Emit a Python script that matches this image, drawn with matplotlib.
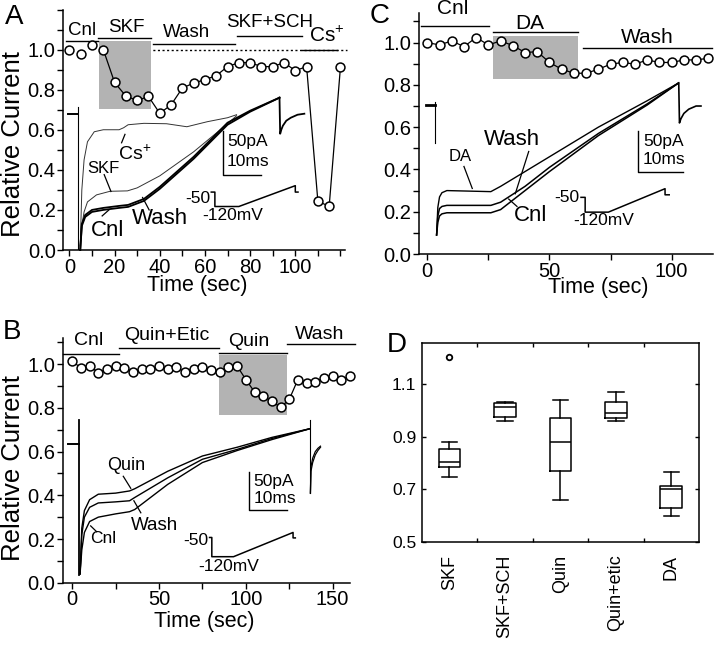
import numpy as np
import matplotlib.pyplot as plt
from matplotlib.patches import Rectangle
from matplotlib.ticker import MultipleLocator

plt.rcParams['font.family'] = ['Liberation Sans', 'DejaVu Sans']
plt.rcParams['mathtext.default'] = 'regular'

# ---------------- panel A : SKF experiment
a_t = [0, 5, 10, 15, 20, 25, 30, 35, 40, 45, 50, 55, 60, 65, 70, 75, 80, 85, 90, 95, 100, 105, 110, 115, 120]
a_rel = [1.0, 0.978, 1.023, 1.0, 0.836, 0.768, 0.746, 0.766, 0.682, 0.724, 0.808, 0.833, 0.85, 0.87,
         0.915, 0.935, 0.935, 0.915, 0.915, 0.935, 0.895, 0.915, 0.242, 0.219, 0.915]
a_epochs = ['Cnl', 'SKF', 'Wash', 'SKF+SCH', 'Cs$^{+}$']
a_start = [-1.5, 12.5, 36.8, 74.3, 103]
a_stop = [12.5, 36, 73.5, 103, 118.4]
a_level = [1.042, 1.058, 1.028, 1.07, 1.0]
a_shade = [13.2, 36, 0.705, 1.042]

a_base_x = [-0.7, 4.0]
a_base_y = [0.68, 0.68]
a_cs_x = [4.8, 5.5, 6.5, 8, 11, 15, 22, 24, 26, 33, 43, 52, 61, 70, 74]
a_cs_y = [0.02, 0.3, 0.45, 0.54, 0.59, 0.6, 0.6, 0.61, 0.625, 0.632, 0.63, 0.615, 0.64, 0.66, 0.675]
a_skf_x = [4.8, 5.5, 6.5, 8, 12, 18, 25.7, 30, 40, 55, 70, 74]
a_skf_y = [0.02, 0.12, 0.19, 0.24, 0.275, 0.293, 0.295, 0.31, 0.37, 0.49, 0.63, 0.67]
a_cnl_x = [4.8, 5.5, 7, 10, 15, 22, 26, 33, 40, 55, 70, 80, 93]
a_cnl_y = [0.0, 0.12, 0.165, 0.19, 0.2, 0.21, 0.215, 0.245, 0.305, 0.455, 0.625, 0.69, 0.76]
a_wash_y = [0.0, 0.13, 0.175, 0.2, 0.21, 0.22, 0.225, 0.255, 0.315, 0.465, 0.635, 0.695, 0.76]
a_tail_x = [93, 93.3, 93.8, 94.5, 96, 98, 101, 104]
a_tail_y = [0.76, 0.58, 0.6, 0.62, 0.645, 0.66, 0.675, 0.68]
a_volt_x = [62.8, 64.4, 64.4, 75, 100, 100, 101.2]
a_volt_y = [0.289, 0.289, 0.217, 0.217, 0.321, 0.289, 0.289]

# ---------------- panel B : quinpirole experiment
b_t = [0, 5, 10, 15, 20, 25, 30, 35, 40, 45, 50, 55, 60, 65, 70, 75, 80, 85, 90, 95, 100,
       105, 110, 115, 120, 125, 130, 135, 140, 145, 150, 155, 160]
b_rel = [1.014, 0.983, 0.991, 0.962, 0.977, 0.991, 0.983, 0.965, 0.977, 0.977, 0.991, 0.98, 0.985,
         0.965, 0.98, 0.985, 0.973, 0.965, 0.985, 0.991, 0.93, 0.873, 0.854, 0.831, 0.802, 0.839,
         0.93, 0.912, 0.919, 0.939, 0.945, 0.93, 0.945]
b_epochs = ['Cnl', 'Quin+Etic', 'Quin', 'Wash']
b_start = [-5.2, 27, 84.3, 123.7]
b_stop = [27, 84.3, 123.7, 163]
b_level = [1.046, 1.076, 1.052, 1.091]
b_shade = [84.3, 123.7, 0.767, 1.044]

b_base_x = [-2.3, 4.0]
b_base_y = [0.633, 0.633]
b_tr_x = [4.5, 5.5, 7, 10, 15, 25, 33, 36, 55, 75, 95, 115, 137]
b_quin_y = [0.04, 0.25, 0.33, 0.38, 0.405, 0.41, 0.42, 0.43, 0.51, 0.58, 0.62, 0.665, 0.705]
b_wash_y = [0.04, 0.22, 0.3, 0.345, 0.365, 0.37, 0.375, 0.39, 0.48, 0.565, 0.61, 0.66, 0.705]
b_cnl_y = [0.04, 0.15, 0.23, 0.28, 0.3, 0.315, 0.325, 0.335, 0.45, 0.55, 0.605, 0.655, 0.705]
b_tail_x = [137.2, 137.5, 138.5, 140, 141.5, 143]
b_tail1_y = [0.41, 0.53, 0.57, 0.6, 0.615, 0.625]
b_tail2_y = [0.41, 0.51, 0.55, 0.585, 0.605, 0.62]
b_volt_x = [79.1, 80.4, 80.4, 92.9, 127.2, 127.2, 128.5]
b_volt_y = [0.207, 0.207, 0.119, 0.119, 0.23, 0.205, 0.205]

# ---------------- panel C : dopamine experiment
c_t = [0, 5, 10, 15, 20, 25, 30, 35, 40, 45, 50, 55, 60, 65, 70, 75, 80, 85, 90, 95, 100, 105, 110, 115]
c_rel = [1.0, 0.989, 1.008, 0.981, 1.024, 0.989, 1.008, 0.986, 0.953, 0.957, 0.906, 0.874, 0.855,
         0.855, 0.874, 0.898, 0.906, 0.898, 0.918, 0.906, 0.906, 0.918, 0.918, 0.926]
c_epochs = ['Cnl', 'DA', 'Wash']
c_start = [-2.7, 26.9, 63.9]
c_stop = [25.4, 61.5, 116.7]
c_level = [1.079, 1.052, 0.973]
c_shade = [26.9, 61.5, 0.827, 1.031]

c_base_x = [-0.7, 3.0]
c_base_y = [0.705, 0.705]
c_tr_x = [3.8, 4.3, 5, 6, 8, 26, 30, 40, 50, 70, 90, 102.7]
c_da_y = [0.09, 0.22, 0.27, 0.29, 0.3, 0.295, 0.32, 0.39, 0.46, 0.6, 0.725, 0.808]
c_wash_y = [0.09, 0.18, 0.215, 0.225, 0.23, 0.23, 0.245, 0.32, 0.41, 0.57, 0.71, 0.808]
c_cnl_y = [0.09, 0.15, 0.18, 0.19, 0.195, 0.195, 0.21, 0.3, 0.39, 0.56, 0.705, 0.808]
c_tail_x = [102.9, 103.2, 103.8, 105, 107, 110, 112]
c_tail_y = [0.81, 0.62, 0.64, 0.665, 0.685, 0.7, 0.7]
c_volt_x = [62.9, 64.6, 64.6, 74.1, 97.3, 97.3, 99.0]
c_volt_y = [0.268, 0.268, 0.198, 0.198, 0.309, 0.28, 0.28]

# ---------------- panel D : summary box plot
d_names = ['SKF', 'SKF+SCH', 'Quin', 'Quin+etic', 'DA']
d_whislo = [0.748, 0.958, 0.66, 0.958, 0.599]
d_q1 = [0.786, 0.974, 0.768, 0.971, 0.628]
d_med = [0.803, 1.012, 0.881, 0.99, 0.702]
d_q3 = [0.852, 1.027, 0.970, 1.033, 0.714]
d_whishi = [0.879, 1.03, 1.04, 1.069, 0.767]
d_fliers = [[1.201], [], [], [], []]


W, H = 720, 646
fig = plt.figure(figsize=(W / 100, H / 100), dpi=100)


def box(l, t, r, b):
    return [l / W, 1 - b / H, (r - l) / W, (b - t) / H]


def style(ax):
    ax.spines[['top', 'right']].set_visible(False)
    for s in ['left', 'bottom']:
        ax.spines[s].set_linewidth(1.1)
    ax.tick_params(which='both', direction='out', length=4, width=1, labelsize=14.5, pad=1.5)


def timecourse(ax, t, rel, epochs, start, stop, level, shade, first_line=0):
    ax.add_patch(Rectangle((shade[0], shade[2]), shade[1] - shade[0], shade[3] - shade[2],
                           facecolor='#b3b3b3', edgecolor='none', zorder=1))
    ax.plot(t[first_line:], rel[first_line:], color='k', lw=0.9, zorder=4, clip_on=False)
    ax.plot(t, rel, ls='none', marker='o', ms=6.4, mfc='white', mec='k', mew=1.1,
            zorder=5, clip_on=False)
    for x0, x1, y in zip(start, stop, level):
        ax.plot([x0, x1], [y, y], color='k', lw=1, clip_on=False, zorder=3)


def trace(ax, x, y, lw=1.2, color='k'):
    ax.plot(x, y, color=color, lw=lw, zorder=2, clip_on=False)


def pointer(ax, x0, y0, x1, y1):
    ax.plot([x0, x1], [y0, y1], color='k', lw=0.9, zorder=3)


def scalebar(ax, x0, y0, x1, y1, fs=12.5):
    ax.plot([x0, x0, x1], [y1, y0, y0], color='k', lw=1)
    ax.text(x0 + (x1 - x0) * 0.1, y1 - (y1 - y0) * 0.25, '50pA', fontsize=fs, va='center')
    ax.text(x0 + (x1 - x0) * 0.1, y0 + (y1 - y0) * 0.3, '10ms', fontsize=fs, va='center')


# ===== A
axA = fig.add_axes(box(63.3, 9.5, 345, 250))
style(axA)
axA.set_xlim(-2.7, 122)
axA.set_ylim(0, 1.2)
axA.set_xticks([0, 20, 40, 60, 80, 100, 120])
axA.set_xticklabels(['0', '20', '40', '60', '80', '100', ''])
axA.xaxis.set_minor_locator(MultipleLocator(10))
axA.set_yticks([0, 0.2, 0.4, 0.6, 0.8, 1.0, 1.2])
axA.set_yticklabels(['0.0', '0.2', '0.4', '0.6', '0.8', '1.0', ''])
axA.yaxis.set_minor_locator(MultipleLocator(0.1))
timecourse(axA, a_t, a_rel, a_epochs, a_start, a_stop, a_level, a_shade, first_line=3)
axA.plot([16.6, 122.8], [1.0, 1.0], color='k', lw=1, ls=(0, (1.5, 1.8)), clip_on=False, zorder=0)
for name, x, y in zip(a_epochs, [5.4, 25.1, 51.8, 88.6, 114], [1.095, 1.112, 1.087, 1.137, 1.07]):
    axA.text(x, y, name, fontsize=13.5 if name != 'Cs$^{+}$' else 15, ha='center', va='center')
trace(axA, a_base_x, a_base_y, lw=1.4)
axA.plot([4.0, 4.0], [0.715, 0.0], color='k', lw=0.8)
trace(axA, a_cs_x, a_cs_y, lw=0.7, color='#333333')
trace(axA, a_skf_x, a_skf_y, lw=0.7, color='#333333')
trace(axA, a_cnl_x, a_cnl_y, lw=1.3)
trace(axA, a_cnl_x, a_wash_y, lw=1.3)
trace(axA, a_tail_x, a_tail_y, lw=1.3)
axA.plot(a_volt_x, a_volt_y, color='k', lw=1.1)
axA.text(62.3, 0.259, '-50', fontsize=12.5, ha='right', va='center')
axA.text(72.4, 0.172, '-120mV', fontsize=12.5, ha='center', va='center')
scalebar(axA, 68.1, 0.376, 84.6, 0.594)
axA.text(28.7, 0.477, 'Cs$^{+}$', fontsize=14, ha='center', va='center')
pointer(axA, 23.1, 0.535, 24.6, 0.577)
axA.text(15, 0.406, 'SKF', fontsize=12, ha='center', va='center')
pointer(axA, 15.4, 0.376, 18.4, 0.292)
axA.text(16.9, 0.095, 'Cnl', fontsize=16, ha='center', va='center')
pointer(axA, 14.5, 0.17, 17.5, 0.2)
axA.text(40, 0.159, 'Wash', fontsize=16, ha='center', va='center')
pointer(axA, 32.4, 0.262, 35.3, 0.2)

# ===== B
axB = fig.add_axes(box(62.7, 338, 350, 582.7))
style(axB)
axB.set_xlim(-5.5, 160)
axB.set_ylim(0, 1.12)
axB.set_xticks([0, 50, 100, 150])
axB.xaxis.set_minor_locator(MultipleLocator(25))
axB.set_yticks([0, 0.2, 0.4, 0.6, 0.8, 1.0])
axB.set_yticklabels(['0.0', '0.2', '0.4', '0.6', '0.8', '1.0'])
axB.yaxis.set_minor_locator(MultipleLocator(0.1))
timecourse(axB, b_t, b_rel, b_epochs, b_start, b_stop, b_level, b_shade)
for name, x, y in zip(b_epochs, [9.6, 54.5, 101.6, 142.3], [1.107, 1.133, 1.102, 1.137]):
    axB.text(x, y, name, fontsize=14, ha='center', va='center')
trace(axB, b_base_x, b_base_y, lw=1.4)
axB.plot([4.0, 4.0], [0.744, 0.035], color='k', lw=1.3)
trace(axB, b_tr_x, b_quin_y, lw=1.0)
trace(axB, b_tr_x, b_wash_y, lw=1.0)
trace(axB, b_tr_x, b_cnl_y, lw=1.0)
axB.plot([137.2, 137.2], [0.744, 0.41], color='k', lw=0.8)
trace(axB, b_tail_x, b_tail1_y, lw=0.9)
trace(axB, b_tail_x, b_tail2_y, lw=0.9)
axB.plot(b_volt_x, b_volt_y, color='k', lw=1.1)
axB.text(78.5, 0.195, '-50', fontsize=12.5, ha='right', va='center')
axB.text(90, 0.075, '-120mV', fontsize=12.5, ha='center', va='center')
scalebar(axB, 102.1, 0.332, 123.7, 0.508)
axB.text(30.8, 0.538, 'Quin', fontsize=13, ha='center', va='center')
pointer(axB, 29.4, 0.487, 33.7, 0.432)
axB.text(47.2, 0.26, 'Wash', fontsize=13.5, ha='center', va='center')
pointer(axB, 35.5, 0.375, 39.5, 0.32)
axB.text(17.9, 0.204, 'Cnl', fontsize=12.5, ha='center', va='center')
pointer(axB, 10.6, 0.26, 14.1, 0.233)

# ===== C
axC = fig.add_axes(box(419, 13, 712.7, 254))
style(axC)
axC.set_xlim(-3.4, 116.8)
axC.set_ylim(0, 1.14)
axC.set_xticks([0, 50, 100])
axC.xaxis.set_minor_locator(MultipleLocator(25))
axC.set_yticks([0, 0.2, 0.4, 0.6, 0.8, 1.0])
axC.set_yticklabels(['0.0', '0.2', '0.4', '0.6', '0.8', '1.0'])
axC.yaxis.set_minor_locator(MultipleLocator(0.1))
timecourse(axC, c_t, c_rel, c_epochs, c_start, c_stop, c_level, c_shade)
for name, x, y in zip(c_epochs, [10.2, 41.8, 90], [1.159, 1.088, 1.025]):
    axC.text(x, y, name, fontsize=15, ha='center', va='center')
trace(axC, c_base_x, c_base_y, lw=2.0)
axC.plot([3.0, 3.0], [0.72, 0.524], color='k', lw=0.8)
trace(axC, c_tr_x, c_da_y, lw=1.0)
trace(axC, c_tr_x, c_wash_y, lw=1.1)
trace(axC, c_tr_x, c_cnl_y, lw=1.1)
trace(axC, c_tail_x, c_tail_y, lw=1.2)
axC.plot(c_volt_x, c_volt_y, color='k', lw=1.1)
axC.text(62.4, 0.265, '-50', fontsize=12.5, ha='right', va='center')
axC.text(72.1, 0.159, '-120mV', fontsize=12.5, ha='center', va='center')
scalebar(axC, 86.4, 0.39, 104.8, 0.58)
axC.text(13.6, 0.461, 'DA', fontsize=12, ha='center', va='center')
pointer(axC, 15, 0.414, 18.4, 0.31)
axC.text(34.7, 0.54, 'Wash', fontsize=16, ha='center', va='center')
pointer(axC, 41.5, 0.485, 36, 0.285)
axC.text(42.2, 0.183, 'Cnl', fontsize=16, ha='center', va='center')
pointer(axC, 36.7, 0.225, 33.3, 0.26)

# ===== D
axD = fig.add_axes(box(421.7, 343, 699, 542))
stats = []
for i, name in enumerate(d_names):
    stats.append(dict(label=name, whislo=d_whislo[i], q1=d_q1[i], med=d_med[i],
                      q3=d_q3[i], whishi=d_whishi[i], fliers=d_fliers[i]))
axD.bxp(stats, positions=[1, 2, 3, 4, 5], widths=0.39, showfliers=True,
        boxprops=dict(color='k', lw=1.1), medianprops=dict(color='k', lw=1.1),
        whiskerprops=dict(color='k', lw=1.1), capprops=dict(color='k', lw=1.1),
        capwidths=0.28,
        flierprops=dict(marker='o', ms=4, mfc='white', mec='k', mew=1.3))
axD.set_xlim(0.5, 5.5)
axD.set_ylim(0.5, 1.256)
axD.set_yticks([0.5, 0.7, 0.9, 1.1])
axD.set_yticklabels(['0.5', '0.7', '0.9', '1.1'])
axD.set_xticks([1, 2, 3, 4, 5])
axD.set_xticklabels(d_names, rotation=90, fontsize=13)
axD.set_xticks([1.5, 2.5, 3.5, 4.5], minor=True)
axD.tick_params(axis='x', which='major', length=0, pad=9)
axD.tick_params(axis='x', which='minor', direction='in', length=3, width=1, top=True, bottom=True)
axD.tick_params(axis='y', direction='in', length=3, width=1, left=True, right=True,
                labelsize=12.5, pad=4)
for s in axD.spines.values():
    s.set_linewidth(1.1)

# panel letters and axis titles
for letter, x, y in [('A', 14, 17), ('B', 12, 332), ('C', 380, 16), ('D', 397, 345)]:
    fig.text(x / W, 1 - y / H, letter, fontsize=20, ha='center', va='center')
fig.text(13.5 / W, 1 - 144 / H, 'Relative Current', rotation=90, fontsize=18.5, ha='center', va='center')
fig.text(13.5 / W, 1 - 468 / H, 'Relative Current', rotation=90, fontsize=18.5, ha='center', va='center')
fig.text(197 / W, 1 - 286 / H, 'Time (sec)', fontsize=15.5, ha='center', va='center')
fig.text(204 / W, 1 - 621 / H, 'Time (sec)', fontsize=15.5, ha='center', va='center')
fig.text(598 / W, 1 - 288 / H, 'Time (sec)', fontsize=15.5, ha='center', va='center')

fig.savefig('out.png', dpi=100)
